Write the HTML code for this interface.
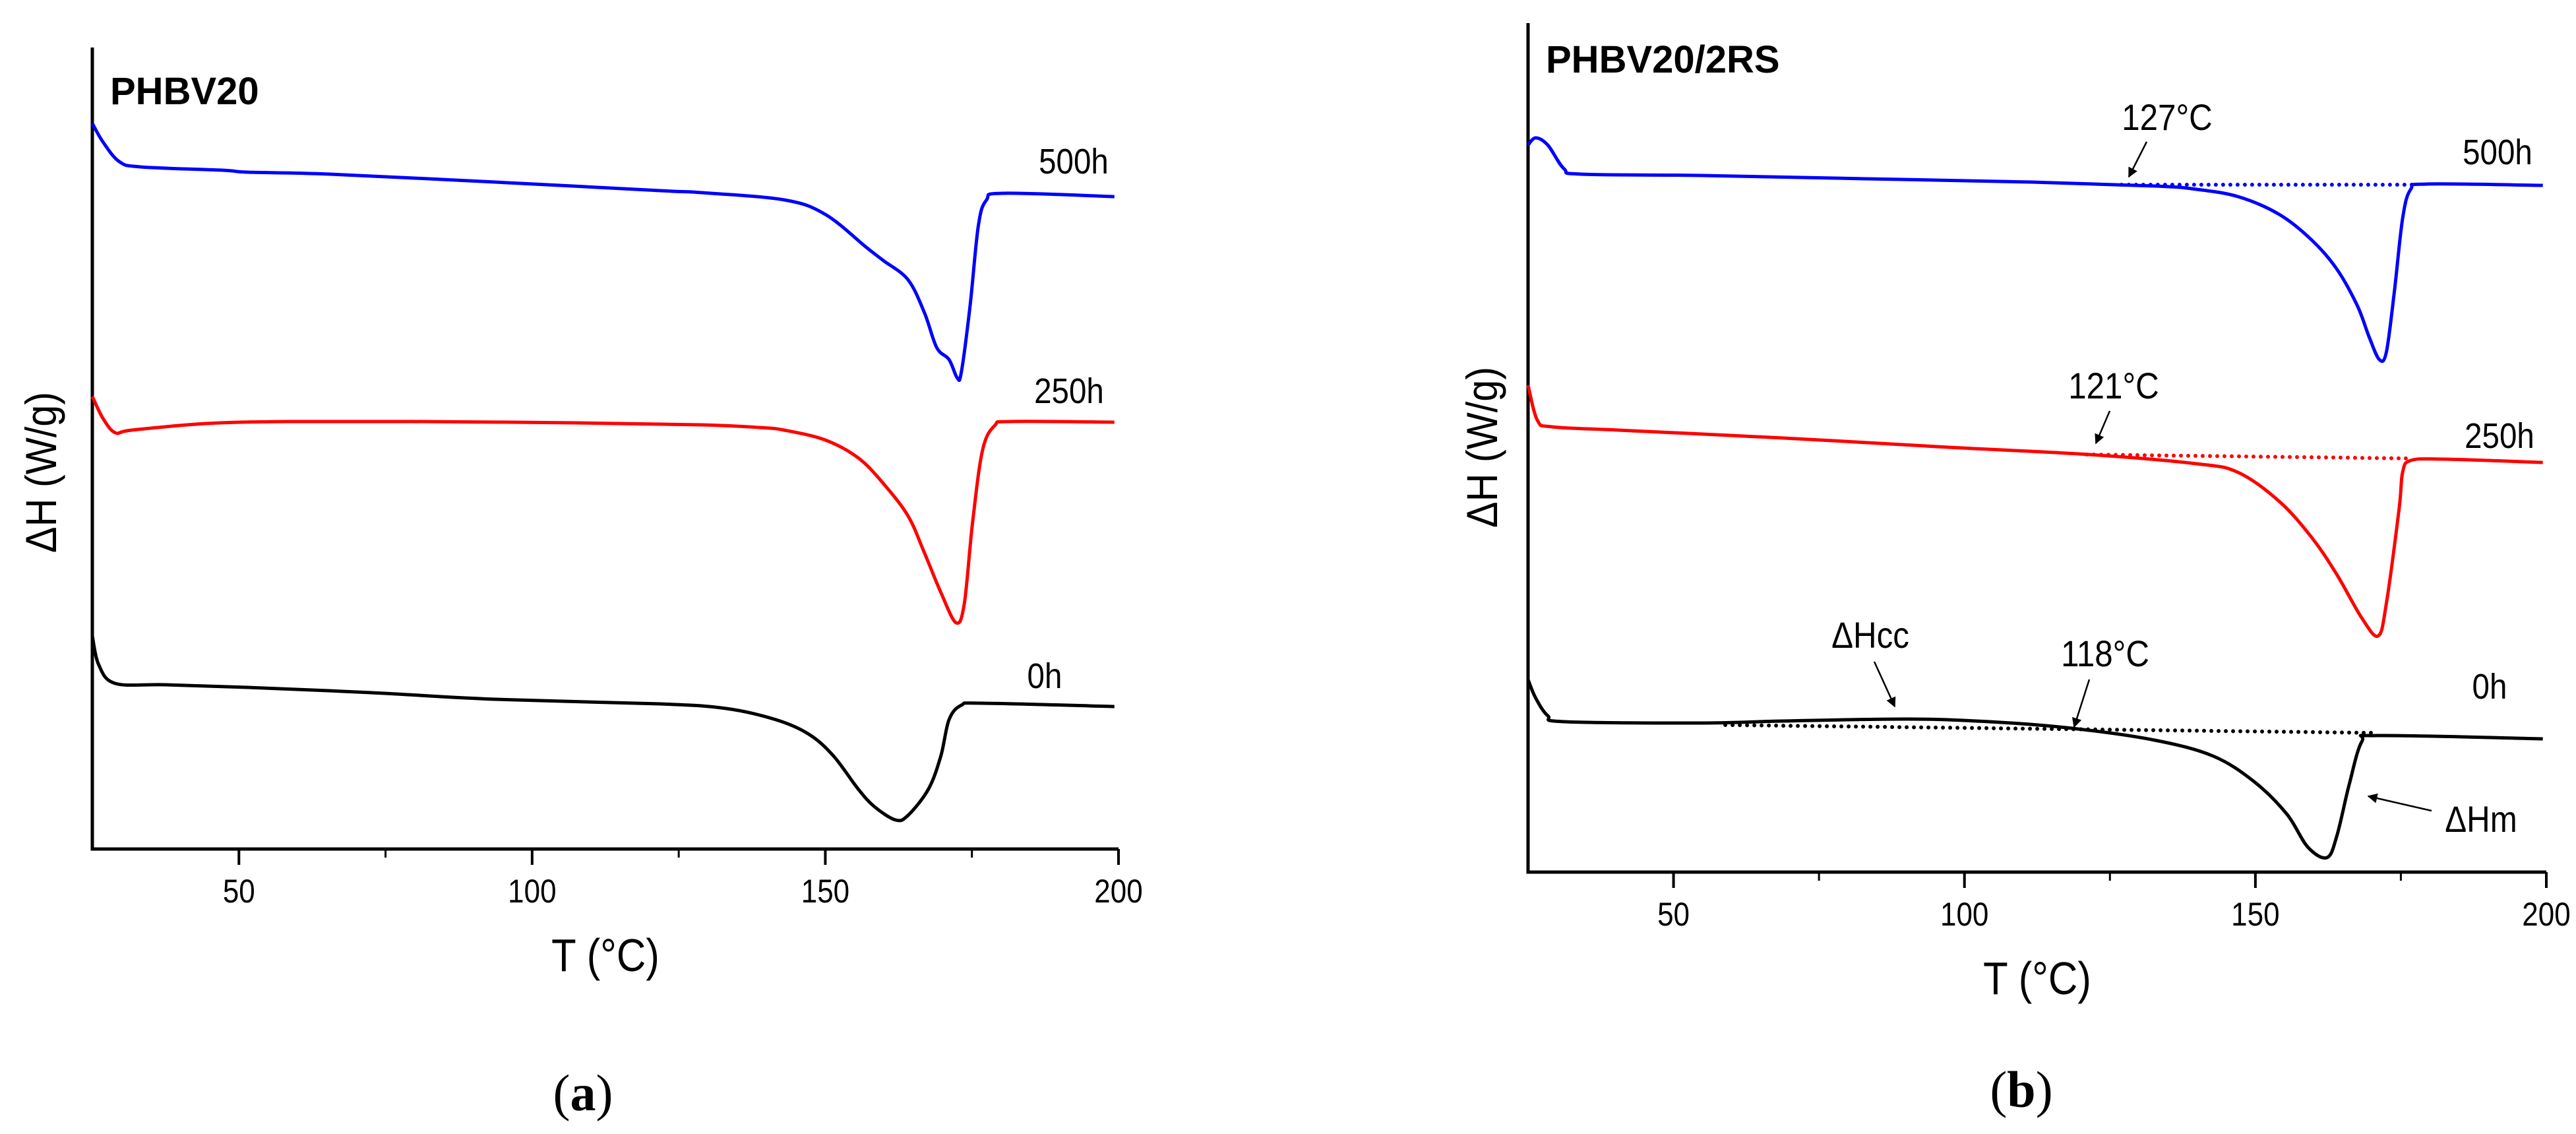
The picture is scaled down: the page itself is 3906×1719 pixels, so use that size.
<!DOCTYPE html>
<html><head><meta charset="utf-8"><style>
html,body{margin:0;padding:0;background:#fff}
svg{display:block}
text{font-family:"Liberation Sans Narrow","Liberation Sans",sans-serif;fill:#000}
.cap{font-family:"Liberation Serif",serif}
</style></head><body>
<svg id="chart" width="3906" height="1719" viewBox="0 0 3906 1719"></svg>
<script>
const xTicks=[50,100,150,200];
const xMinor=[75,125,175];
const tickLabels=["50","100","150","200"];
// Panel a
const aT500=[25,26.8,29.6,33.2,47.2,51.5,65.5,93.7,121.9,128.9,143,150,157,159.9,164.1,166.9,169,171.1,172.5,173.2,174.7,176.1,177.5,180.3,199.3];
const aV500=[110.0,107.2,104.2,103.4,102.9,102.6,102.3,101.1,99.8,99.5,98.4,96.2,91.2,89.2,86.3,81.3,76.0,74.2,71.4,72.3,82.4,94.5,98.4,99.4,98.9];
const aT250=[25,26.8,28.9,31.7,44.4,58.5,79.6,107.7,128.9,138.7,143,150,155.6,159.9,164.1,166.9,169.7,172.3,173.7,175.1,176.8,178.9,181.7,199.3];
const aV250=[68.6,65.3,63.1,63.5,64.5,64.8,64.8,64.6,64.3,63.9,63.5,62.0,59.3,55.4,50.5,44.9,38.9,34.3,37.2,49.4,60.4,64.2,64.8,64.7];
const aT0=[25,26.1,28.9,37.4,51.5,72.6,93.7,121.9,133.1,141.6,147.2,151.4,155.6,158.4,162,164.1,167.6,169.7,171.1,173.2,176.8,199.3];
const aV0=[32.3,27.9,25.1,24.9,24.5,23.7,22.7,22.0,21.3,19.6,17.4,14.1,9.1,6.4,4.4,5.1,9.1,14.1,19.6,21.8,22.1,21.6];
// Panel b
const bT500=[25,26.3,28.4,31.2,34.1,54.7,83.1,111.5,132.8,139.9,147,154.1,159.7,164,167.5,169.6,171.3,172.5,173.9,175.3,176.7,179.5,199.4];
const bV500=[110.2,111.3,110.2,106.6,105.8,105.6,105.1,104.6,104.0,103.5,102.4,99.7,95.8,91.4,85.9,81.0,77.7,78.8,88.1,99.1,103.5,104.3,104.1];
const bT250=[25,26.6,29.1,40.5,68.9,97.3,121.4,139.9,147,154.1,159.7,164,168.3,171.1,172.5,174.7,175.3,176.7,182.4,199.4];
const bV250=[73.8,68.5,67.5,67.0,65.8,64.4,63.3,61.9,60.6,56.2,50.7,45.1,38.5,35.8,40.7,55.1,60.6,62.4,62.6,62.1];
const bT0=[25,26.3,28.4,31.2,54.7,68.9,90.2,104.3,118.5,132.7,142.7,149.8,155.4,159,162.3,164,166.1,168.3,171.1,199.4];
const bV0=[29.2,26.4,23.7,22.8,22.6,22.9,23.2,22.8,21.8,20.0,17.6,13.7,8.8,3.8,2.2,5.5,13.2,19.8,20.7,20.2];
const baseT500=[127,177],baseV500=[104.2,104.2];
const baseT250=[121,177],baseV250=[63.3,62.7];
const baseT0=[58.9,171],baseV0=[22.3,21.1];

const NS="http://www.w3.org/2000/svg";
const svg=document.getElementById('chart');
function mk(tag,attrs,parent){const e=document.createElementNS(NS,tag);for(const k in attrs)e.setAttribute(k,attrs[k]);(parent||svg).appendChild(e);return e;}
function txt(s,attrs,parent){const e=mk('text',attrs,parent);e.textContent=s;return e;}
function smooth(pts){
  let d='M'+pts[0][0].toFixed(1)+','+pts[0][1].toFixed(1);
  for(let i=0;i<pts.length-1;i++){
    const p0=pts[i-1]||pts[i],p1=pts[i],p2=pts[i+1],p3=pts[i+2]||p2;
    const k=1/6;
    const c1=[p1[0]+(p2[0]-p0[0])*k,p1[1]+(p2[1]-p0[1])*k];
    const c2=[p2[0]-(p3[0]-p1[0])*k,p2[1]-(p3[1]-p1[1])*k];
    d+=` C${c1[0].toFixed(1)},${c1[1].toFixed(1)} ${c2[0].toFixed(1)},${c2[1].toFixed(1)} ${p2[0].toFixed(1)},${p2[1].toFixed(1)}`;
  }
  return d;
}

function panel(cfg){
  const g=mk('g',{});
  
  
  const x=t=>cfg.x0+(t-25)*(cfg.x1-cfg.x0)/175;
  const y=v=>cfg.yb-v*10;
  const ax=mk('path',{d:`M${cfg.x0},${cfg.yt} V${cfg.yb} H${cfg.x1}`,stroke:'#000','stroke-width':5,fill:'none'},g);
  
  
  xTicks.forEach((t,i)=>{
    const tk=mk('line',{x1:x(t),x2:x(t),y1:cfg.yb,y2:cfg.yb+24,stroke:'#000','stroke-width':4},g);
    
    
    const tl=txt(tickLabels[i],{x:x(t),y:cfg.yb+81,'text-anchor':'middle','font-size':50,transform:`translate(${x(t)*0.12},0) scale(0.88,1)`},g);
    
    
  });
  xMinor.forEach(t=>{
    const tk=mk('line',{x1:x(t),x2:x(t),y1:cfg.yb,y2:cfg.yb+13,stroke:'#000','stroke-width':3},g);
    
    
  });
  const cx=(cfg.x0+cfg.x1)/2;
  const xt=txt('T (°C)',{x:cx,y:cfg.yb+185,'text-anchor':'middle','font-size':70,transform:`translate(${cx*0.12},0) scale(0.88,1)`},g);
  
  
  const yt=txt('ΔH (W/g)',{x:0,y:0,transform:`translate(${cfg.ylx},${cfg.yly}) rotate(-90) scale(0.9,1)`,'text-anchor':'middle','font-size':66},g);
  
  
  const tt=txt(cfg.title,{x:cfg.x0+27,y:cfg.ty,'font-size':58,'font-weight':'bold'},g);
  
  
  cfg.series.forEach(s=>{
    if(s.bt){
      const d=s.bt.map((t,i)=>(i?'L':'M')+x(t).toFixed(1)+','+y(s.bv[i]).toFixed(1)).join(' ');
      const b=mk('path',{d:d,stroke:s.c,'stroke-width':6,'stroke-dasharray':'0 11','stroke-linecap':'round',fill:'none'},g);
      
      
    }
    const pts=s.t.map((t,i)=>[x(t),y(s.v[i])]);
    const p=mk('path',{d:smooth(pts),stroke:s.c,'stroke-width':5,fill:'none','stroke-linejoin':'round'},g);
    
    
    const l=txt(s.n,{x:s.lx,y:s.ly+18,'text-anchor':'middle','font-size':54,transform:`translate(${s.lx*0.12},0) scale(0.88,1)`},g);
    
    
  });
  const c=txt('',{x:cfg.cx,y:cfg.cy+25,'text-anchor':'middle','font-size':78,'class':'cap'},g);
  
  
  c.innerHTML='(<tspan font-weight="bold">'+cfg.cap+'</tspan>)';
  return {g,x,y};
}

panel({name:'panel-a',x0:140,x1:1696,yt:72,yb:1287,ylx:85,yly:716,title:'PHBV20',ty:158,cx:884,cy:1658,cap:'a',
  series:[{n:'500h',t:aT500,v:aV500,c:'#0000ff',lx:1628,ly:245},
          {n:'250h',t:aT250,v:aV250,c:'#ff0000',lx:1621,ly:593},
          {n:'0h',t:aT0,v:aV0,c:'#000',lx:1584,ly:1025}]});
panel({name:'panel-b',x0:2317,x1:3861,yt:35,yb:1322,ylx:2270,yly:678,title:'PHBV20/2RS',ty:110,cx:3065,cy:1653,cap:'b',
  series:[{n:'500h',t:bT500,v:bV500,c:'#0000ff',lx:3787,ly:231,bt:baseT500,bv:baseV500},
          {n:'250h',t:bT250,v:bV250,c:'#ff0000',lx:3790,ly:661,bt:baseT250,bv:baseV250},
          {n:'0h',t:bT0,v:bV0,c:'#000',lx:3775,ly:1041,bt:baseT0,bv:baseV0}]});

const defs=mk('defs',{});
const mkr=mk('marker',{id:'ah',viewBox:'0 0 10 10',refX:9,refY:5,markerWidth:6,markerHeight:6,orient:'auto'},defs);
mk('path',{d:'M0,0 L10,5 L0,10 z',fill:'#000'},mkr);
const ann=[["127°C",3286,179,3255,215,3228,268],["121°C",3205,586,3199,623,3178,672],
           ["ΔHcc",2836,964,2842,1003,2873,1071],["118°C",3192,992,3168,1030,3145,1102],
           ["ΔHm",3762,1243,3687,1229,3591,1207]];
ann.forEach(a=>{
  const t=txt(a[0],{x:a[1],y:a[2]+18,'text-anchor':'middle','font-size':56,transform:`translate(${a[1]*0.12},0) scale(0.88,1)`});
  
  
  const l=mk('line',{x1:a[3],y1:a[4],x2:a[5],y2:a[6],stroke:'#000','stroke-width':2.5,'marker-end':'url(#ah)'});
  
  
});
</script>
</body></html>
